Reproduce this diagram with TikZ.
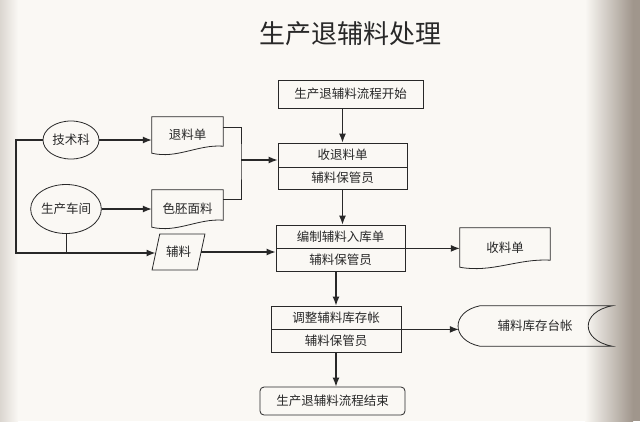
\documentclass[tikz,border=0pt]{standalone}
\usepackage{fontspec}
\setmainfont{Noto Sans CJK SC}
\usepackage{tikz}
\usetikzlibrary{calc}
\usetikzlibrary{shapes.geometric,arrows.meta}
\definecolor{paper}{RGB}{250,248,244}
\definecolor{edge}{RGB}{160,150,140}
\definecolor{ink}{RGB}{40,40,40}
\tikzset{
    box/.style={draw=ink, line width=0.8pt, text=ink, font=\fontsize{12.5}{14}\selectfont, minimum width=129pt, inner sep=0pt},
    plain/.style={text=ink, font=\fontsize{12.5}{14}\selectfont, inner sep=0pt},
    arr/.style={line width=1.3pt, draw=ink, -{Latex[length=9pt,width=7pt]}},
    wire/.style={line width=0.8pt, draw=ink}
}
% outline of a document shape round a named node
\newcommand{\slipoutline}[1]{%
    \draw[wire] (#1.north west) -- (#1.north east) -- ($(#1.south east)+(0,-7)$)
        .. controls ($(#1.south)+(0.15*\pgfkeysvalueof{/pgf/minimum width},-9)$)
        and ($(#1.south)+(-0.15*\pgfkeysvalueof{/pgf/minimum width},6)$) .. (#1.south west) -- cycle;}
\begin{document}
\begin{tikzpicture}[x=1pt, y=-1pt]
        % paper
        \fill[paper] (0,0) rectangle (640,421);
        \shade[left color=paper, right color=edge] (585,0) rectangle (633,421);
        \fill[edge] (633,0) rectangle (640,421);
        \shade[left color=edge!35!paper, right color=paper] (0,0) rectangle (18,421);
        \useasboundingbox (0,0) rectangle (640,421);
        % title
        \node[text=ink, font=\fontsize{26}{28}\selectfont, inner sep=0pt] (title) at (350.5,33.5) {生产退辅料处理};
        % main column
        \node[box, minimum width=145pt, minimum height=28pt] (start) at (350.5,94) {生产退辅料流程开始};
        \node[box, minimum height=24pt] (recvA) at (342.5,155) {收退料单};
        \node[box, minimum height=22pt] (recvB) at (342.5,178) {辅料保管员};
        \node[box, minimum height=23pt] (editA) at (340.5,236.5) {编制辅料入库单};
        \node[box, minimum height=23pt] (editB) at (340.5,259.5) {辅料保管员};
        \node[box, minimum width=130pt, minimum height=23pt] (adjA) at (336,317.5) {调整辅料库存帐};
        \node[box, minimum width=130pt, minimum height=23pt] (adjB) at (336,340.5) {辅料保管员};
        \node[box, rounded corners=4pt, minimum width=145pt, minimum height=28pt] (finish) at (332.5,401) {生产退辅料流程结束};
        % left side
        \node[ellipse, draw=ink, line width=0.8pt, plain, minimum width=56pt, minimum height=38pt] (tech) at (71,140) {技术科};
        \node[ellipse, draw=ink, line width=0.8pt, plain, minimum width=65pt, minimum height=49pt] (shop) at (66,209) {生产车间};
        \node[plain, minimum width=71pt, minimum height=36pt] (retslip) at (187.5,135) {退料单};
        \node[plain, minimum width=71pt, minimum height=37pt] (fabric) at (187.5,208.5) {色胚面料};
        \node[trapezium, trapezium left angle=66, trapezium right angle=114, trapezium stretches=true,
              draw=ink, line width=0.8pt, plain, minimum width=53pt, minimum height=36pt] (aux) at (178.5,252) {辅料};
        % right side
        \node[plain, minimum width=90pt, minimum height=39pt] (slip) at (505,247.5) {收料单};
        \node[plain, minimum width=154pt, minimum height=40pt] (ledger) at (535,326) {辅料库存台帐};
        \begingroup
        \pgfkeys{/pgf/minimum width=71pt}
        \slipoutline{retslip}
        \slipoutline{fabric}
        \pgfkeys{/pgf/minimum width=90pt}
        \slipoutline{slip}
        \endgroup
        \draw[wire] ($(ledger.north west)+(22,0)$) -- (ledger.north east)
            .. controls ($(ledger.north east)+(-32,6)$) and ($(ledger.south east)+(-32,-6)$) .. (ledger.south east)
            -- ($(ledger.south west)+(22,0)$)
            .. controls ($(ledger.south west)+(-7,-6)$) and ($(ledger.north west)+(-7,6)$) .. cycle;
        % connectors
        \coordinate (merge) at (241,160);
        \coordinate (leftturn) at (16,253);
        \draw[arr] (start.south -| recvA.north) -- (recvA.north);
        \draw[arr] (recvB.south) -- (recvB.south |- editA.north);
        \draw[arr] (editB.south -| adjA.north) -- (adjA.north);
        \draw[arr] (adjB.south) -- (adjB.south |- finish.north);
        \draw[arr] (editA.south east) -- (editA.south east -| slip.west);
        \draw[arr] (adjA.south east) -- ($(adjA.south east -| ledger.west)+(1,0)$);
        \draw[arr] (tech.east) -- (tech.east -| retslip.west);
        \draw[arr] (shop.east) -- (shop.east -| fabric.west);
        \draw[wire] ([yshift=8pt]retslip.east) -| (merge) |- ([yshift=9.5pt]fabric.east);
        \draw[arr] (merge) -- (merge -| recvA.west);
        \draw[arr] (tech.west) -| (leftturn) -- (leftturn -| aux.west);
        \draw[wire] (shop.south) -- (shop.south |- leftturn);
        \draw[arr] (aux.east) -- (aux.east -| editB.west);
    \end{tikzpicture}
\end{document}
